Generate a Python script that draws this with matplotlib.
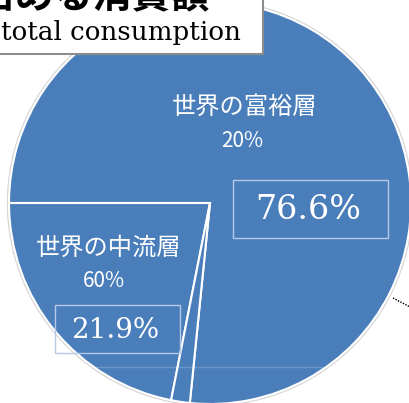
import matplotlib
matplotlib.use("Agg")
import matplotlib.pyplot as plt
from matplotlib.patches import Rectangle, Circle

plt.rcParams['font.family'] = ['Noto Sans CJK JP', 'DejaVu Sans']

# chart values
shares = [76.6, 21.9, 1.5]
share_labels = ['76.6%', '21.9%', '1.5%']
groups = ['世界の富裕層', '世界の中流層', '世界の貧困層']
pop_shares = ['20%', '60%', '20%']
title_ja = '占める消費額'
title_en = 'total consumption'

W, H = 410, 403
blue = '#4a7ebb'


def py(y):
    # picture rows run downward, axes run upward
    return H - y


fig = plt.figure(figsize=(W / 100, H / 100), dpi=100)
ax = fig.add_axes([0, 0, 1, 1])

cx, cy, r = 210, py(203), 201

# soft grey rim round the pie
ax.add_patch(Circle((cx, cy), r + 1.5, color='#d6d6d6', zorder=0))
ax.pie(shares, colors=[blue] * len(shares), startangle=180 - shares[0] * 3.6,
       counterclock=True, center=(cx, cy), radius=r, frame=True,
       wedgeprops=dict(edgecolor='white', linewidth=1.5))

ax.set_xlim(0, W)
ax.set_ylim(0, H)
ax.set_aspect('auto')
ax.axis('off')

# faint scan line
ax.plot([0, W], [py(367), py(367)], color='white', alpha=0.18, lw=1, zorder=3)

# dotted leader going out of the frame
ax.plot([393, 412], [py(298), py(308)], color='black', lw=1, ls=(0, (1, 1)), zorder=3)

# group labels inside the slices
ax.text(245, py(107), groups[0], color='white', fontsize=17.5, ha='center', va='center', zorder=4)
ax.text(242, py(141), pop_shares[0], color='white', fontsize=15, ha='center', va='center', zorder=4)
ax.text(109, py(248), groups[1], color='white', fontsize=17.5, ha='center', va='center', zorder=4)
ax.text(104, py(281), pop_shares[1], color='white', fontsize=15, ha='center', va='center', zorder=4)

# share boxes
ax.add_patch(Rectangle((233, py(238)), 155, 58, fill=False, edgecolor='#b7c9e4', lw=1, zorder=4))
ax.text(308, py(210), share_labels[0], color='white', fontsize=24, family='DejaVu Serif',
        ha='center', va='center', zorder=5)
ax.add_patch(Rectangle((55, py(353)), 125, 48, fill=False, edgecolor='#b7c9e4', lw=1, zorder=4))
ax.text(115, py(331), share_labels[1], color='white', fontsize=20, family='DejaVu Serif',
        ha='center', va='center', zorder=5)

# title box, cut by the top edge
ax.add_patch(Rectangle((-2, py(54)), 265, 60, facecolor='white', edgecolor='#8c8c8c', lw=1.5, zorder=6))
ax.text(210, py(7), title_ja, fontsize=28, fontweight='bold', ha='right', va='baseline', zorder=7)
ax.text(1, py(40), title_en, fontsize=18.8, family='DejaVu Serif', ha='left', va='baseline', zorder=7)

fig.savefig('out.png', dpi=100)
